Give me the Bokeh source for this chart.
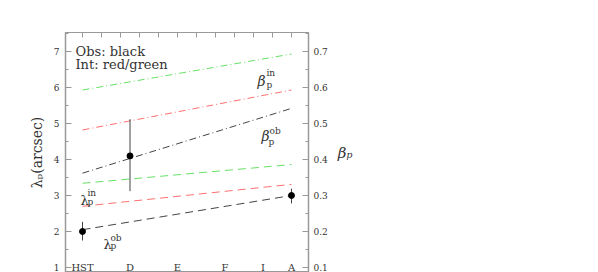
from bokeh.plotting import figure
from bokeh.models import Range1d, LinearAxis, FixedTicker, Label
from bokeh.core.properties import value
from bokeh.embed import file_html
from bokeh.resources import INLINE

# ---- data ----
bands = ["HST", "D", "E", "F", "I", "A"]
band_x = [0, 2.5, 5, 7.5, 9.5, 11]

line_x = [0, 11]
beta_in_green = [5.93, 6.93]
beta_in_red = [4.82, 5.93]
beta_ob = [3.62, 5.42]
lam_in_green = [3.34, 3.86]
lam_in_red = [2.70, 3.31]
lam_ob = [2.05, 3.00]

obs_x = [0, 2.5, 11]
obs_lam = [2.0, 4.1, 3.0]
obs_lo = [1.75, 3.12, 2.78]
obs_hi = [2.27, 5.12, 3.19]

lam_ticks = [1, 2, 3, 4, 5, 6, 7]
lam_minor = [1.5, 2.5, 3.5, 4.5, 5.5, 6.5, 7.5]
beta_ticks = [0.1, 0.2, 0.3, 0.4, 0.5, 0.6, 0.7]
beta_minor = [0.15, 0.25, 0.35, 0.45, 0.55, 0.65, 0.75]
top_ticks = list(range(12))

SERIF = "DejaVu Serif"
AX = "#999999"
TXT = "#333333"
GREEN = "#66e066"
RED = "#ff7070"
BLACK = "#444444"

p = figure(width=598, height=272, output_backend="svg", toolbar_location=None,
           x_range=Range1d(-0.895, 11.895), y_range=Range1d(0.861, 7.528),
           x_axis_location="above", y_axis_location="left",
           min_border_left=65, min_border_right=290, min_border_top=32,
           min_border_bottom=0)
p.grid.visible = False
p.outline_line_color = AX
p.background_fill_color = "white"
p.border_fill_color = "white"

# top axis: ticks only
xa = p.xaxis[0]
xa.ticker = FixedTicker(ticks=top_ticks)
xa.major_label_overrides = {t: "" for t in top_ticks}
xa.major_label_text_font_size = "6px"
xa.major_label_standoff = 0
xa.major_tick_in = 5
xa.major_tick_out = 0
xa.minor_tick_line_color = None
xa.axis_line_color = AX
xa.major_tick_line_color = AX

# left axis
ya = p.yaxis[0]
ya.ticker = FixedTicker(ticks=lam_ticks, minor_ticks=lam_minor)
ya.major_tick_in = 6
ya.major_tick_out = 0
ya.minor_tick_in = 3
ya.minor_tick_out = 0
ya.axis_line_color = AX
ya.axis_line_width = 1.5
ya.major_tick_line_color = AX
ya.minor_tick_line_color = AX
ya.major_label_text_font = SERIF
ya.major_label_text_font_size = "9px"
ya.major_label_text_color = TXT
ya.major_label_standoff = 6
ya.axis_label = "λₚ(arcsec)"
ya.axis_label_text_font = SERIF
ya.axis_label_text_font_size = "14px"
ya.axis_label_text_font_style = "normal"
ya.axis_label_text_color = TXT
ya.axis_label_standoff = 6

# right axis
p.extra_y_ranges = {"beta": Range1d(0.0861, 0.7528)}
ra = LinearAxis(y_range_name="beta",
                ticker=FixedTicker(ticks=beta_ticks, minor_ticks=beta_minor))
ra.major_tick_in = 6
ra.major_tick_out = 0
ra.minor_tick_in = 3
ra.minor_tick_out = 0
ra.axis_line_color = AX
ra.axis_line_width = 1.5
ra.major_tick_line_color = AX
ra.minor_tick_line_color = AX
ra.major_label_text_font = SERIF
ra.major_label_text_font_size = "9px"
ra.major_label_text_color = TXT
ra.major_label_standoff = 5
ra.axis_label = "βₚ"
ra.axis_label_orientation = "horizontal"
ra.axis_label_text_font = SERIF
ra.axis_label_text_font_size = "15px"
ra.axis_label_text_font_style = "italic"
ra.axis_label_text_color = TXT
ra.axis_label_standoff = 7
p.add_layout(ra, "right")

# model lines
p.line(line_x, beta_in_green, line_color=GREEN, line_width=1, line_dash="7 3 1 3")
p.line(line_x, beta_in_red, line_color=RED, line_width=1, line_dash="7 3 1 3")
p.line(line_x, beta_ob, line_color=BLACK, line_width=1, line_dash="7 3 1 3")
p.line(line_x, lam_in_green, line_color=GREEN, line_width=1, line_dash="8 5")
p.line(line_x, lam_in_red, line_color=RED, line_width=1, line_dash="8 5")
p.line(line_x, lam_ob, line_color=BLACK, line_width=1, line_dash="8 5")

# observations
p.segment(x0=obs_x, y0=obs_lo, x1=obs_x, y1=obs_hi, line_color="#444444", line_width=1)
p.scatter(obs_x, obs_lam, size=6, color="black")

# band labels
p.text(x=band_x, y=[0.99] * len(bands), text=bands, text_align="center",
       text_baseline="alphabetic", text_font=value(SERIF), text_font_size="10px",
       text_color=TXT)


def lab(x, y, t, size, style="normal"):
    p.add_layout(Label(x=x, y=y, text=t, text_font=SERIF, text_font_size=size,
                       text_font_style=style, text_color=TXT,
                       text_align="left", text_baseline="alphabetic"))


lab(-0.37, 7.0, "Obs: black", "13px")
lab(-0.37, 6.63, "Int: red/green", "13px")

# beta labels
lab(9.21, 6.19, "β", "14px", "italic")
lab(9.68, 6.39, "in", "9px")
lab(9.68, 6.08, "p", "9px")
lab(9.42, 4.64, "β", "14px", "italic")
lab(9.84, 4.78, "ob", "9px")
lab(9.79, 4.50, "p", "9px")

# lambda labels
lab(-0.105, 2.86, "λ", "13px")
lab(0.26, 3.06, "in", "9px")
lab(0.26, 2.83, "p", "9px")
lab(1.105, 1.64, "λ", "13px")
lab(1.47, 1.81, "ob", "9px")
lab(1.47, 1.61, "p", "9px")

open("out.html", "w").write(file_html(p, INLINE))
